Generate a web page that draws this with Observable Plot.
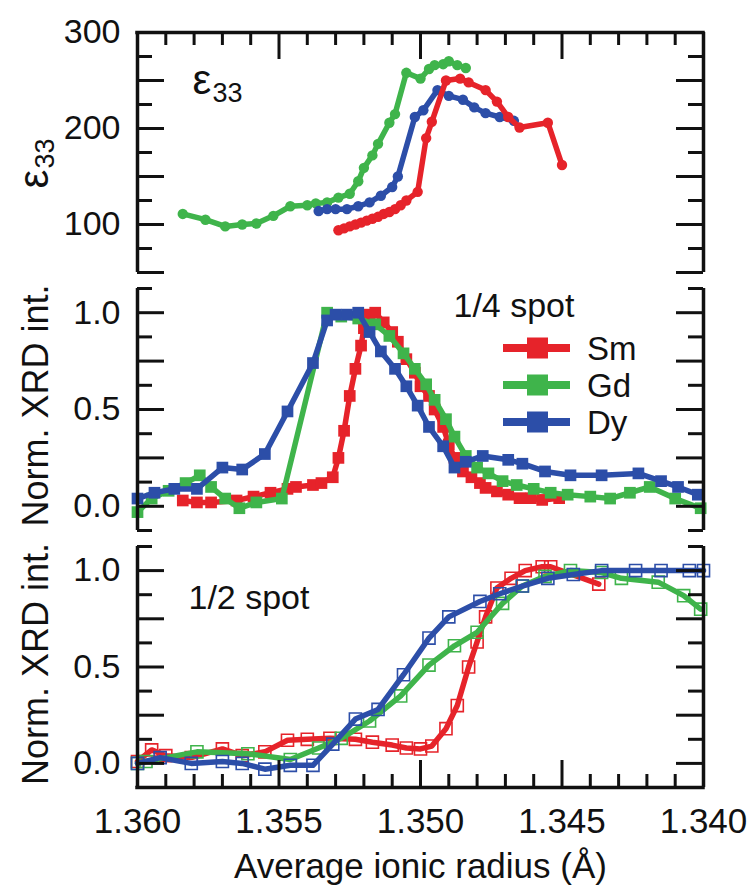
<!DOCTYPE html>
<html><head><meta charset="utf-8">
<script src="https://cdn.jsdelivr.net/npm/d3@7"></script>
<script src="https://cdn.jsdelivr.net/npm/@observablehq/plot@0.6"></script>
<style>
html,body{margin:0;padding:0;background:#fff;}
#chart{position:relative;width:754px;height:889px;font-family:"Liberation Sans",Arial,sans-serif;}
#chart svg{display:block;}
#legend{position:absolute;left:0;top:0;pointer-events:none;}
</style></head><body><div id="chart"></div>
<script>
// ---------- series ----------
const elements = ["Sm", "Gd", "Dy"];
const colors = {Sm: "#e6232a", Gd: "#3fb44b", Dy: "#2c4ea8"};

// Panel 1: epsilon_33 vs average ionic radius
const eps_Sm_r = [1.3529,1.3527,1.3525,1.3523,1.3521,1.3519,1.3517,1.3515,1.3513,1.3511,1.3509,1.3507,1.3505,1.3501,1.3498,1.3496,1.3491,1.3486,1.3483,1.3477,1.3473,1.3469,1.3465,1.3455,1.3450];
const eps_Sm   = [94,96,98,100,102,104,106,108,111,113,116,120,125,134,190,207,250,252,248,240,228,212,201,206,162];
const eps_Gd_r = [1.3584,1.3576,1.3569,1.3563,1.3558,1.3552,1.3546,1.3540,1.3537,1.3533,1.3529,1.3525,1.3522,1.3520,1.3517,1.3515,1.3511,1.3509,1.3505,1.3500,1.3497,1.3495,1.3492,1.3490,1.3487,1.3484];
const eps_Gd   = [111,105,98,100,101,109,119,120,122,123,128,132,145,159,172,184,206,215,258,252,262,266,267,270,266,263];
const eps_Dy_r = [1.3536,1.3533,1.3530,1.3526,1.3522,1.3518,1.3514,1.3510,1.3508,1.3502,1.3499,1.3494,1.3490,1.3485,1.3481,1.3477,1.3472,1.3467];
const eps_Dy   = [114,116,116,116,119,123,130,139,150,212,219,240,234,230,222,216,212,208];

// Panel 2: 1/4 spot normalised XRD intensity
const q_Sm_r = [1.3584,1.3579,1.3574,1.3565,1.3559,1.3553,1.3547,1.3544,1.3538,1.3535,1.3531,1.3529,1.3527,1.3525,1.3523,1.3521,1.3520,1.3518,1.3516,1.3513,1.3510,1.3508,1.3505,1.3502,1.3500,1.3497,1.3495,1.3492,1.3490,1.3488,1.3485,1.3482,1.3479,1.3477,1.3473,1.3469,1.3465,1.3461,1.3457,1.3451];
const q_Sm   = [0.03,0.02,0.02,0.03,0.05,0.07,0.09,0.10,0.11,0.12,0.15,0.25,0.39,0.57,0.71,0.83,0.92,0.99,1.00,0.95,0.90,0.85,0.76,0.69,0.62,0.57,0.50,0.41,0.32,0.25,0.18,0.15,0.12,0.095,0.077,0.06,0.042,0.042,0.033,0.042];
const q_Gd_r = [1.3600,1.3595,1.3589,1.3583,1.3578,1.3574,1.3569,1.3564,1.3558,1.3549,1.3533,1.3528,1.3522,1.3516,1.3511,1.3506,1.3502,1.3498,1.3495,1.3491,1.3488,1.3484,1.3480,1.3476,1.3471,1.3466,1.3460,1.3454,1.3448,1.3440,1.3433,1.3426,1.3419,1.3410,1.3401];
const q_Gd   = [-0.03,0.04,0.08,0.12,0.16,0.10,0.04,-0.01,0.02,0.04,1.00,0.98,0.97,0.94,0.88,0.79,0.71,0.63,0.55,0.45,0.36,0.26,0.20,0.17,0.13,0.11,0.09,0.07,0.06,0.05,0.04,0.07,0.10,0.04,-0.01];
const q_Dy_r = [1.3600,1.3594,1.3587,1.3579,1.3570,1.3563,1.3555,1.3547,1.3538,1.3533,1.3530,1.3526,1.3522,1.3518,1.3514,1.3509,1.3505,1.3501,1.3497,1.3492,1.3488,1.3484,1.3478,1.3469,1.3464,1.3456,1.3447,1.3436,1.3423,1.3415,1.3409,1.3402];
const q_Dy   = [0.04,0.07,0.09,0.09,0.20,0.19,0.27,0.49,0.74,0.96,0.99,0.99,1.00,0.90,0.80,0.71,0.62,0.52,0.41,0.31,0.20,0.23,0.26,0.24,0.22,0.18,0.16,0.16,0.17,0.13,0.10,0.06];

// Panel 3: 1/2 spot normalised XRD intensity
const h_Sm_r = [1.3600,1.3595,1.3590,1.3581,1.3570,1.3563,1.3555,1.3547,1.3540,1.3532,1.3523,1.3517,1.3510,1.3505,1.3500,1.3496,1.3491,1.3487,1.3483,1.3480,1.3477,1.3473,1.3468,1.3463,1.3457,1.3454,1.3437];
const h_Sm   = [0.01,0.07,0.04,0.03,0.075,0.04,0.06,0.12,0.125,0.13,0.125,0.11,0.095,0.08,0.075,0.09,0.18,0.30,0.50,0.63,0.76,0.91,0.96,1.00,1.02,1.02,0.93];
const h_Gd_r = [1.3600,1.3597,1.3579,1.3561,1.3546,1.3536,1.3528,1.3518,1.3507,1.3497,1.3488,1.3480,1.3471,1.3464,1.3456,1.3447,1.3436,1.3429,1.3416,1.3407,1.3401];
const h_Gd   = [0.0,0.01,0.06,0.05,0.02,0.08,0.13,0.22,0.35,0.51,0.61,0.68,0.83,0.92,0.97,1.00,0.99,0.96,0.94,0.87,0.80];
const h_Dy_r = [1.3600,1.3592,1.3581,1.3570,1.3563,1.3555,1.3546,1.3538,1.3531,1.3523,1.3515,1.3506,1.3497,1.3490,1.3479,1.3472,1.3464,1.3455,1.3446,1.3436,1.3424,1.3415,1.3405,1.3400];
const h_Dy   = [0.0,0.03,0.0,0.01,0.0,-0.03,-0.01,-0.01,0.10,0.23,0.28,0.46,0.65,0.76,0.84,0.88,0.92,0.96,0.98,1.00,1.00,1.00,1.00,1.00];

// ---------- axes / labels ----------
const xDomain = [1.360, 1.340];
const xLabels = [1.360, 1.355, 1.350, 1.345, 1.340];
const xMinor = d3.range(0, 21).filter(i => i % 5 !== 0).map(i => +(1.360 - i * 0.001).toFixed(3));
const xTitle = "Average ionic radius (Å)";
const epsDomain = [50, 300], epsLabels = [100, 200, 300];
const epsMajor = [50, 100, 150, 200, 250, 300], epsMinor = [75, 125, 175, 225, 275];
const xrdDomain = [-0.125, 1.125], xrdLabels = [0.0, 0.5, 1.0];
const xrdMajor = [0, 0.25, 0.5, 0.75, 1.0], xrdMinor = [-0.125, 0.125, 0.375, 0.625, 0.875, 1.125];
const xrdTitle = "Norm. XRD int.";
const quarterLabel = "1/4 spot", halfLabel = "1/2 spot";

const rows = (name, rs, vs) => rs.map((r, i) => ({element: name, r, v: vs[i]}));

// ---------- layout ----------
const W = 754, ML = 137, MR = 51, FW = W - ML - MR;
const font = "Liberation Sans, Arial, sans-serif";
const K = "#111";

function frameMarks(FH, major, minor, {top = null, bottom = null} = {}) {
  const m = [
    Plot.ruleY(major, {stroke: K, strokeWidth: 3, insetRight: FW - 27}),
    Plot.ruleY(minor, {stroke: K, strokeWidth: 3, insetRight: FW - 15}),
    Plot.ruleY(major, {stroke: K, strokeWidth: 3, insetLeft: FW - 27}),
    Plot.ruleY(minor, {stroke: K, strokeWidth: 3, insetLeft: FW - 15}),
    Plot.ruleX(xDomain, {stroke: K, strokeWidth: 3.5})
  ];
  if (top != null) {
    m.push(Plot.ruleX(xMinor, {stroke: K, strokeWidth: 3, insetBottom: FH - 13}));
    m.push(Plot.ruleX(xLabels, {stroke: K, strokeWidth: 3, insetBottom: FH - 27}));
    m.push(Plot.ruleY([top], {stroke: K, strokeWidth: 3.5, strokeLinecap: "square"}));
  }
  if (bottom != null) {
    m.push(Plot.ruleX(xMinor, {stroke: K, strokeWidth: 3, insetTop: FH - 13}));
    m.push(Plot.ruleX(xLabels, {stroke: K, strokeWidth: 3, insetTop: FH - 27}));
    m.push(Plot.ruleY([bottom], {stroke: K, strokeWidth: 3.5, strokeLinecap: "square"}));
  }
  return m;
}

function seriesMarks(data, color, kind) {
  const line = Plot.line(data, {x: "r", y: "v", stroke: color, strokeWidth: 5.5, strokeLinejoin: "round"});
  if (kind === "circle") return [line, Plot.dot(data, {x: "r", y: "v", fill: color, r: 5.2})];
  if (kind === "square") return [line, Plot.dot(data, {x: "r", y: "v", fill: color, symbol: "square", r: 6.6})];
  return [line, Plot.dot(data, {x: "r", y: "v", stroke: color, fill: "none", strokeWidth: 1.6, symbol: "square", r: 6.8})];
}

const styleObj = {fontSize: "34px", fontFamily: font, color: K, background: "white"};

// Panel 1
const p1FH = 240;
const p1 = Plot.plot({
  width: W, height: 280, marginLeft: ML, marginRight: MR, marginTop: 32, marginBottom: 8,
  style: styleObj,
  x: {domain: xDomain, axis: null},
  y: {domain: epsDomain},
  marks: [
    ...seriesMarks(rows("Gd", eps_Gd_r, eps_Gd), colors.Gd, "circle"),
    ...seriesMarks(rows("Dy", eps_Dy_r, eps_Dy), colors.Dy, "circle"),
    ...seriesMarks(rows("Sm", eps_Sm_r, eps_Sm), colors.Sm, "circle"),
    ...frameMarks(p1FH, epsMajor, epsMinor, {top: epsDomain[1]}),
    Plot.axisY({anchor: "left", ticks: epsLabels, tickSize: 0, tickPadding: 17, tickFormat: d3.format("d"), label: null, fontSize: 34}),
    Plot.text(["ε"], {frameAnchor: "top-left", dx: 55, dy: 61, text: d => d, textAnchor: "start", lineAnchor: "bottom", fontSize: 42, fill: K}),
    Plot.text(["33"], {frameAnchor: "top-left", dx: 75, dy: 69, text: d => d, textAnchor: "start", lineAnchor: "bottom", fontSize: 27, fill: K}),
    Plot.text(["ε"], {frameAnchor: "left", dx: -90, dy: 36, rotate: -90, text: d => d, textAnchor: "start", lineAnchor: "bottom", fontSize: 42, fill: K}),
    Plot.text(["33"], {frameAnchor: "left", dx: -84, dy: 16, rotate: -90, text: d => d, textAnchor: "start", lineAnchor: "bottom", fontSize: 27, fill: K})
  ]
});

// Panel 2
const p2FH = 242;
const p2 = Plot.plot({
  width: W, height: 258, marginLeft: ML, marginRight: MR, marginTop: 8, marginBottom: 8,
  style: styleObj,
  x: {domain: xDomain, axis: null},
  y: {domain: xrdDomain},
  marks: [
    ...seriesMarks(rows("Sm", q_Sm_r, q_Sm), colors.Sm, "square"),
    ...seriesMarks(rows("Gd", q_Gd_r, q_Gd), colors.Gd, "square"),
    ...seriesMarks(rows("Dy", q_Dy_r, q_Dy), colors.Dy, "square"),
    ...frameMarks(p2FH, xrdMajor, xrdMinor),
    Plot.axisY({anchor: "left", ticks: xrdLabels, tickSize: 0, tickPadding: 17, tickFormat: d3.format(".1f"), label: null, fontSize: 34}),
    Plot.text([quarterLabel], {frameAnchor: "top-left", dx: 316, dy: 28, text: d => d, textAnchor: "start", lineAnchor: "bottom", fontSize: 34, fill: K}),
    Plot.text([xrdTitle], {frameAnchor: "left", dx: -90, dy: -4, rotate: -90, text: d => d, textAnchor: "middle", lineAnchor: "bottom", fontSize: 36, fill: K})
  ]
});

// Panel 3
const p3FH = 241;
const p3 = Plot.plot({
  width: W, height: 351, marginLeft: ML, marginRight: MR, marginTop: 8, marginBottom: 102,
  style: styleObj,
  x: {domain: xDomain},
  y: {domain: xrdDomain},
  marks: [
    ...seriesMarks(rows("Sm", h_Sm_r, h_Sm), colors.Sm, "open"),
    ...seriesMarks(rows("Gd", h_Gd_r, h_Gd), colors.Gd, "open"),
    ...seriesMarks(rows("Dy", h_Dy_r, h_Dy), colors.Dy, "open"),
    ...frameMarks(p3FH, xrdMajor, xrdMinor, {bottom: xrdDomain[0]}),
    Plot.axisY({anchor: "left", ticks: xrdLabels, tickSize: 0, tickPadding: 17, tickFormat: d3.format(".1f"), label: null, fontSize: 34}),
    Plot.axisX({anchor: "bottom", ticks: xLabels, tickSize: 0, tickPadding: 21, tickFormat: d3.format(".3f"), label: null, fontSize: 35}),
    Plot.text([xTitle], {frameAnchor: "bottom", dy: 66, text: d => d, textAnchor: "middle", lineAnchor: "top", fontSize: 35, fill: K}),
    Plot.text([halfLabel], {frameAnchor: "top-left", dx: 51, dy: 62, text: d => d, textAnchor: "start", lineAnchor: "bottom", fontSize: 34, fill: K}),
    Plot.text([xrdTitle], {frameAnchor: "left", dx: -90, dy: -3, rotate: -90, text: d => d, textAnchor: "middle", lineAnchor: "bottom", fontSize: 36, fill: K})
  ]
});

const chart = document.getElementById("chart");
chart.append(p1, p2, p3);

// Legend overlay (inside the 1/4-spot panel)
const leg = d3.select(chart).append("svg").attr("id", "legend").attr("width", W).attr("height", 889);
const legY0 = 348, legStep = 37;
elements.forEach((el, i) => {
  const y = legY0 + i * legStep;
  const g = leg.append("g");
  g.append("line").attr("x1", 503).attr("x2", 570).attr("y1", y).attr("y2", y)
    .attr("stroke", colors[el]).attr("stroke-width", 8);
  g.append("rect").attr("x", 527).attr("y", y - 10.5).attr("width", 21).attr("height", 21).attr("fill", colors[el]);
  g.append("text").attr("x", 587).attr("y", y + 12).attr("font-size", 33).attr("font-family", font)
    .attr("fill", K).text(el);
});
</script>
</body></html>
